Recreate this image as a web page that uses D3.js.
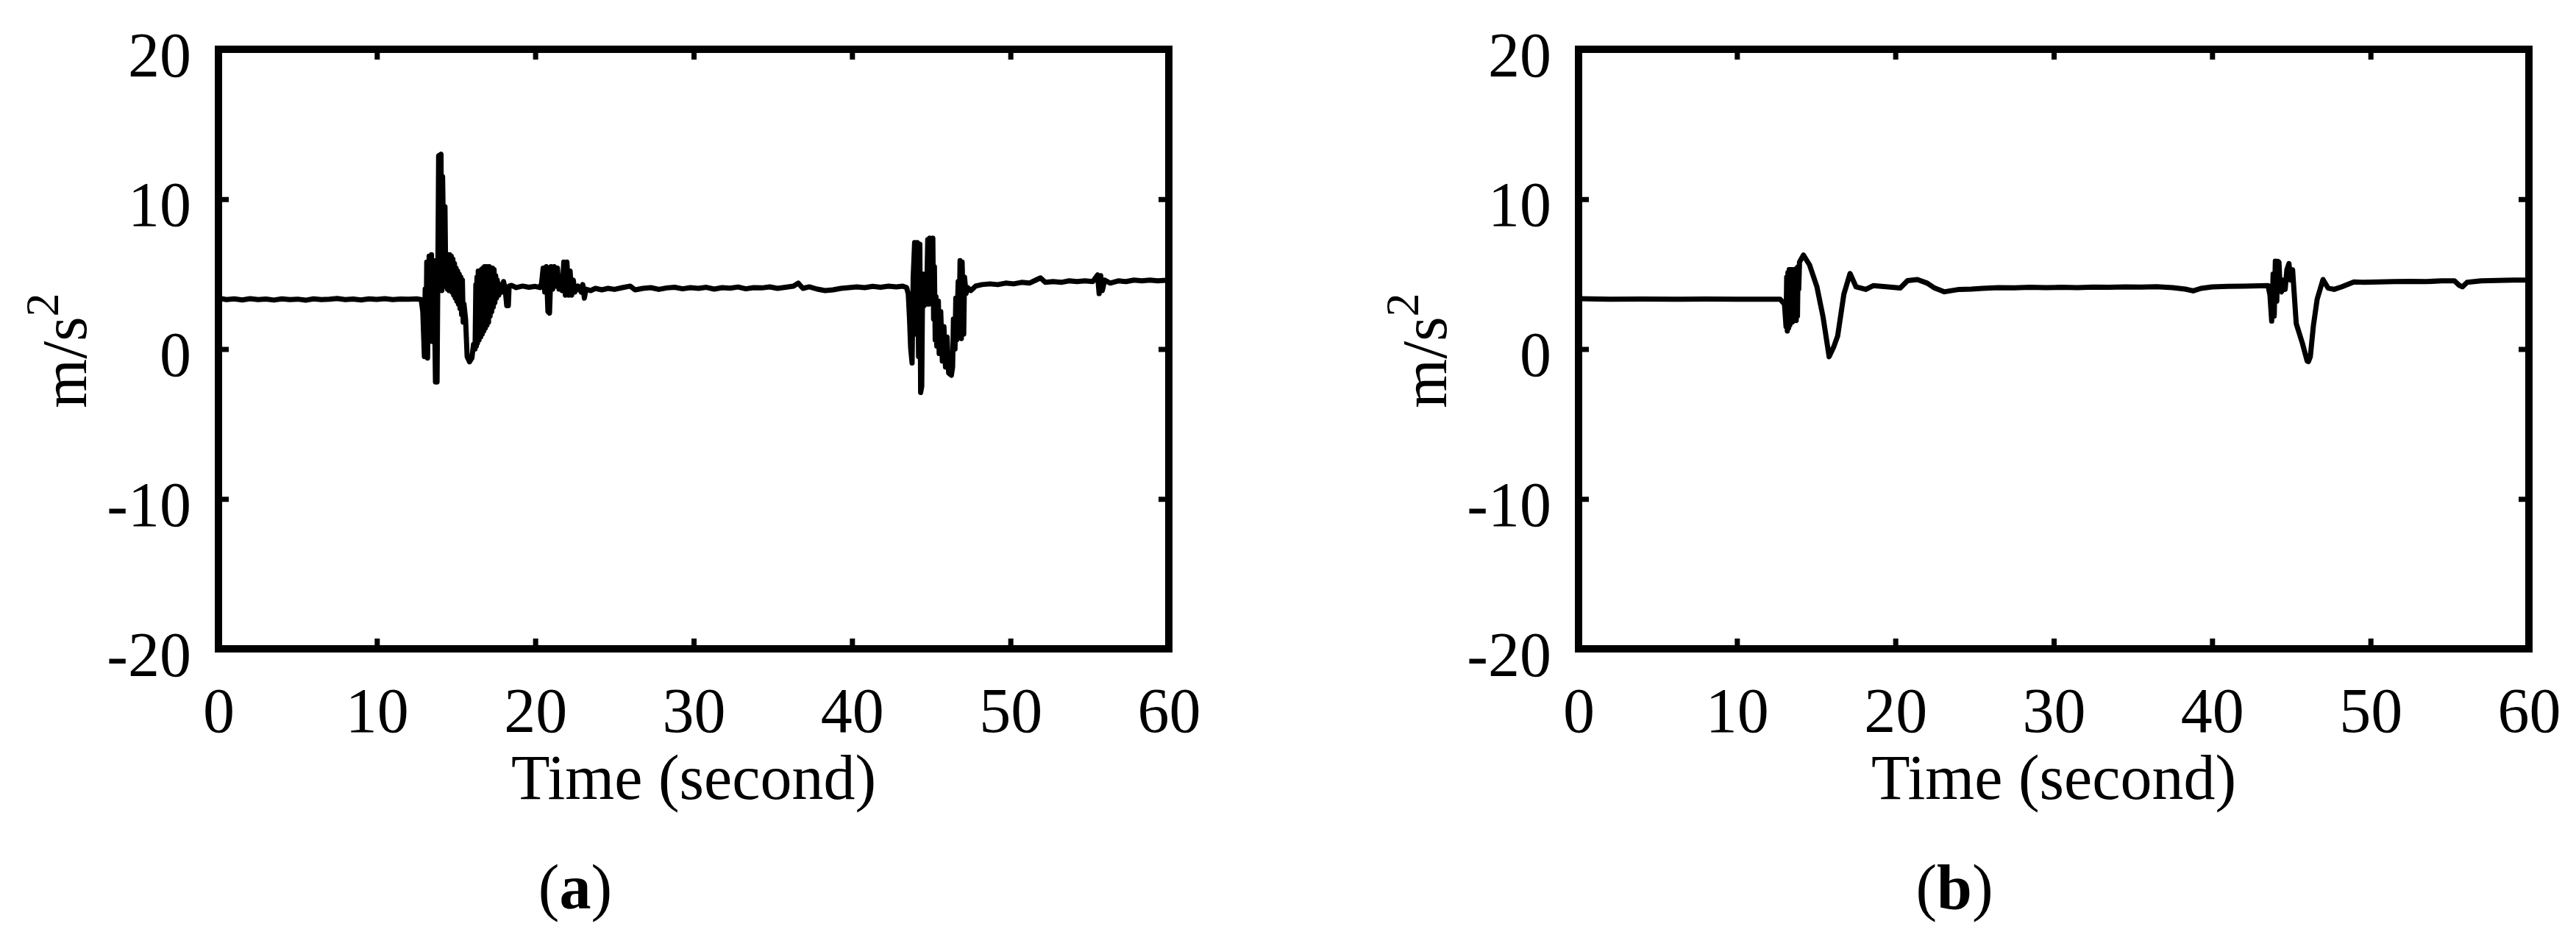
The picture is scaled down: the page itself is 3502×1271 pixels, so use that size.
<!DOCTYPE html>
<html>
<head>
<meta charset="utf-8">
<script src="https://cdn.jsdelivr.net/npm/d3@7"></script>
<style>
  html, body { margin: 0; padding: 0; background: #fff; }
  svg { display: block; }
  .trace { fill: none; stroke: #000; stroke-width: 7; stroke-linejoin: round; }
  .frame { fill: none; stroke: #000; stroke-width: 10; }
  text { font-family: "Liberation Serif", "Times New Roman", serif; fill: #000; }
</style>
</head>
<body>
<svg id="chart" width="3502" height="1271"></svg>
<script>
// axis values
var xTicks = [0, 10, 20, 30, 40, 50, 60];
var yTicks = [20, 10, 0, -10, -20];
var xTitle = 'Time (second)';
var panelNames = ['a', 'b'];

// (a) raw acceleration [time, m/s^2]
var seriesA = [
  [0,3.4],[0.5,3.3],[1,3.35],[1.5,3.28],[2,3.36],[2.5,3.3],[3,3.34],[3.5,3.27],[4,3.35],[4.5,3.3],
  [5,3.33],[5.5,3.26],[6,3.35],[6.5,3.3],[7,3.32],[7.5,3.37],[8,3.3],[8.5,3.34],[9,3.28],[9.5,3.35],
  [10,3.31],[10.5,3.36],[11,3.3],[11.5,3.34],[12,3.32],[12.5,3.35],[12.8,3.3],
  [12.9,2.5],[13.0,-0.5],[13.05,4.0],[13.1,0.2],[13.15,5.8],[13.2,-0.6],[13.3,6.2],[13.35,1.0],
  [13.45,6.3],[13.5,0.5],[13.6,5.9],[13.7,-2.2],[13.8,-2.2],[13.85,5.0],[13.9,12.9],[14.05,13.0],
  [14.1,3.9],[14.15,11.5],[14.25,4.2],[14.3,9.5],[14.35,4.5],
  [14.4,6.3],[14.45,4.0],[14.5,6.3],[14.55,3.9],[14.6,6.3],[14.65,4.0],[14.7,6.2],[14.75,3.8],
  [14.8,6.0],[14.85,3.6],[14.9,5.7],[14.95,3.4],[15.0,5.4],[15.05,3.2],[15.1,5.2],[15.15,3.0],
  [15.2,5.0],[15.25,2.7],[15.3,4.8],[15.35,2.3],[15.4,4.6],[15.45,1.8],[15.5,3.0],
  [15.6,2.0],[15.7,-0.5],[15.85,-0.85],[16.0,-0.6],[16.1,0.3],
  [16.2,0.0],[16.25,4.3],[16.28,0.2],[16.32,4.8],[16.35,0.4],[16.4,5.2],[16.45,0.6],[16.5,5.2],
  [16.55,0.8],[16.6,5.3],[16.65,1.0],[16.7,5.4],[16.75,1.2],[16.8,5.5],[16.85,1.4],[16.9,5.5],
  [16.95,1.6],[17.0,5.5],[17.05,1.8],[17.1,5.5],[17.15,2.2],[17.2,5.4],[17.25,2.5],[17.3,5.4],
  [17.35,2.8],[17.4,5.3],[17.45,3.1],[17.5,4.9],[17.55,3.4],[17.6,4.6],
  [17.7,3.6],[17.8,4.3],[17.9,3.8],[18.0,4.5],[18.1,4.0],[18.2,2.9],[18.3,2.9],[18.35,4.2],[18.5,4.25],
  [18.8,4.1],[19.2,4.2],[19.6,4.12],[20.0,4.18],[20.3,4.1],
  [20.4,4.4],[20.5,5.4],[20.6,3.8],[20.7,5.5],[20.8,2.5],[20.9,2.4],[21.0,5.5],[21.1,4.0],
  [21.2,5.5],[21.3,4.2],[21.4,5.4],[21.5,4.0],[21.6,4.7],[21.7,3.9],[21.8,5.8],[21.9,3.6],
  [22.0,5.8],[22.1,3.6],[22.2,5.2],[22.3,3.6],[22.4,4.6],[22.5,3.8],[22.7,4.2],[22.9,3.8],
  [23.0,4.3],[23.1,3.4],[23.2,4.0],[23.5,3.9],[23.8,4.05],[24.2,3.95],
  [24.6,4.05],[25,3.98],[25.5,4.1],[26,4.2],[26.3,3.95],[26.8,4.05],[27.3,4.1],[27.8,3.98],
  [28.3,4.08],[28.8,4.12],[29.3,4.02],[29.8,4.1],[30.3,4.05],[30.8,4.12],[31.3,4.0],[31.8,4.1],
  [32.3,4.06],[32.8,4.14],[33.3,4.02],[33.8,4.1],[34.3,4.08],[34.8,4.15],[35.3,4.05],[35.8,4.12],
  [36.3,4.2],[36.6,4.4],[36.9,4.05],[37.3,4.15],[37.8,4.0],[38.3,3.9],[38.8,3.95],[39.3,4.05],
  [39.8,4.1],[40.3,4.15],[40.8,4.1],[41.3,4.18],[41.8,4.12],[42.3,4.2],[42.8,4.15],[43.2,4.2],
  [43.45,4.1],[43.55,3.66],[43.63,2.0],[43.7,0.06],[43.79,-0.93],[43.86,4.8],[43.95,7.1],
  [44.05,1.0],[44.12,7.1],[44.2,-0.5],[44.28,7.0],[44.33,-2.9],[44.4,-2.5],[44.45,3.8],
  [44.5,5.0],[44.55,2.9],[44.62,4.9],[44.7,3.0],[44.78,7.3],[44.85,3.0],[44.9,7.4],[45.0,3.2],
  [45.1,7.4],[45.15,2.0],[45.2,5.5],[45.25,0.6],[45.3,3.5],[45.35,0.2],[45.45,3.2],[45.5,-0.3],
  [45.6,2.5],[45.7,-0.8],[45.8,1.5],[45.9,-1.2],[46.0,0.8],[46.1,-1.6],[46.27,-1.75],[46.35,-1.2],
  [46.4,2.0],[46.5,0.0],[46.55,3.4],[46.6,0.6],[46.7,4.5],[46.75,0.8],[46.82,5.9],[46.9,0.7],
  [46.95,5.8],[47.05,1.0],[47.1,4.8],[47.2,3.7],[47.3,4.1],[47.5,3.9],[47.8,4.2],
  [48.2,4.3],[48.7,4.35],[49.2,4.3],[49.7,4.4],[50.2,4.35],[50.7,4.45],[51.2,4.4],[51.6,4.6],
  [51.9,4.75],[52.2,4.45],[52.7,4.5],[53.2,4.45],[53.7,4.55],[54.2,4.5],[54.7,4.55],[55.2,4.5],
  [55.5,4.95],[55.6,3.7],[55.7,4.9],[55.8,3.9],[55.95,4.6],[56.3,4.4],[56.8,4.55],[57.3,4.5],
  [57.8,4.6],[58.3,4.55],[58.8,4.6],[59.3,4.55],[60,4.6]
];

// (b) filtered acceleration [time, m/s^2]
var seriesB = [
  [0,3.36],[2,3.33],[4,3.34],[6,3.32],[8,3.34],[10,3.33],[12.72,3.33],
  [13.0,3.0],[13.1,1.5],[13.14,4.8],[13.18,1.2],[13.22,5.1],[13.26,1.4],[13.3,5.3],[13.34,1.6],
  [13.38,5.3],[13.42,1.8],[13.46,5.3],[13.5,1.8],[13.54,5.2],[13.58,1.9],[13.62,5.3],[13.66,2.0],
  [13.7,5.3],[13.74,1.9],[13.78,5.4],[13.82,2.2],[13.86,5.5],[13.9,4.0],[13.95,5.8],[14.0,5.9],
  [14.2,6.27],[14.58,5.62],
  [15.05,4.15],[15.43,2.18],[15.82,-0.51],[16.13,0.2],[16.36,0.88],[16.75,3.66],[17.14,5.04],
  [17.52,4.15],[18.14,3.98],[18.6,4.23],[19.54,4.15],[20.31,4.07],[20.77,4.56],[21.39,4.64],
  [22.01,4.4],[22.48,4.07],[23.1,3.82],[24.03,3.98],[24.8,4.0],
  [25.5,4.05],[26.5,4.1],[27.5,4.08],[28.5,4.12],[29.5,4.1],[30.5,4.12],[31.5,4.1],[32.5,4.14],
  [33.5,4.12],[34.5,4.15],[35.5,4.13],[36.5,4.16],[37.5,4.1],[38.3,4.0],[38.8,3.88],[39.3,4.05],
  [40,4.15],[41,4.18],[42,4.2],[43,4.22],[43.53,4.23],
  [43.65,3.6],[43.76,1.86],[43.85,5.0],[43.92,2.2],[43.99,5.87],[44.08,3.2],[44.15,5.85],
  [44.22,5.79],[44.3,3.9],[44.38,3.82],[44.5,4.6],[44.61,3.98],[44.72,5.3],[44.85,5.7],
  [44.95,4.6],[45.08,5.29],[45.31,1.7],[45.7,0.38],[46.0,-0.8],[46.08,-0.84],[46.2,-0.5],
  [46.39,1.53],[46.63,3.33],[47.0,4.64],[47.32,4.07],[47.7,3.98],[48.17,4.15],[48.95,4.48],
  [49.5,4.46],[50.5,4.48],[51.5,4.5],[52.5,4.52],[53.5,4.5],[54.5,4.55],[55.3,4.55],[55.6,4.25],
  [55.8,4.15],[56.1,4.45],[57,4.55],[58,4.58],[59,4.6],[60,4.6]
];

var charts = {};

charts.init = function(){
    this.svg = d3.select('#chart');
    this.fontSize = 86;
    // plot frames, left edge of each panel
    this.left = [297, 2146];
    this.top = 67;
    this.width = 1292;
    this.height = 815;
}

charts.drawPanel = function(i, data){
    const svg = this.svg
    const fs = this.fontSize
    const w = this.width
    const h = this.height
    // plain hyphen for negatives, like the source figure
    const fmt = function(d){ return String(d) }

    var g = svg.append('g')
        .attr('transform', 'translate(' + this.left[i] + ',' + this.top + ')')

    var x = d3.scaleLinear().domain([0, 60]).range([0, w]);
    var y = d3.scaleLinear().domain([-20, 20]).range([h, 0]);

    var line = d3.line()
        .x(function(d){ return x(d[0]) })
        .y(function(d){ return y(d[1]) });

    g.append('path')
        .datum(data)
        .attr('class', 'trace')
        .attr('d', line)

    // inward ticks on all four sides
    var bottom = g.append('g')
        .attr('transform', 'translate(0,' + h + ')')
        .call(d3.axisBottom(x).tickValues(xTicks).tickSize(-14).tickFormat(fmt))
    var top = g.append('g')
        .call(d3.axisTop(x).tickValues(xTicks).tickSize(-14).tickFormat(''))
    var left = g.append('g')
        .call(d3.axisLeft(y).tickValues(yTicks).tickSize(-14).tickFormat(fmt))
    var right = g.append('g')
        .attr('transform', 'translate(' + w + ',0)')
        .call(d3.axisRight(y).tickValues(yTicks).tickSize(-14).tickFormat(''))

    ;[bottom, top, left, right].forEach(function(a){
        a.select('.domain').remove()
        a.selectAll('line').attr('stroke', '#000').attr('stroke-width', 7)
        a.selectAll('text')
            .attr('font-family', '"Liberation Serif", serif')
            .attr('font-size', fs)
            .attr('fill', '#000')
    })

    bottom.selectAll('text').attr('y', 113).attr('dy', null)
    left.selectAll('text').attr('x', -37).attr('dy', 36)

    g.append('rect')
        .attr('class', 'frame')
        .attr('x', 0)
        .attr('y', 0)
        .attr('width', w)
        .attr('height', h)

    g.append('text')
        .text(xTitle)
        .attr('x', w/2)
        .attr('y', 1086 - this.top)
        .attr('text-anchor', 'middle')
        .attr('font-size', fs)

    var ylab = g.append('text')
        .attr('transform', 'translate(' + (117 - 297) + ',' + (h/2 + 2) + ') rotate(-90)')
        .attr('text-anchor', 'middle')
        .attr('font-size', fs)
    ylab.append('tspan').text('m/s')
    ylab.append('tspan').text('2').attr('font-size', 64).attr('dy', -38)

    var cap = g.append('text')
        .attr('x', 485 + (i == 0 ? 0 : 26))
        .attr('y', 1235 - this.top)
        .attr('text-anchor', 'middle')
        .attr('font-size', fs)
    cap.append('tspan').text('(')
    cap.append('tspan').text(panelNames[i]).attr('font-weight', 'bold')
    cap.append('tspan').text(')')
}

charts.init()
charts.drawPanel(0, seriesA)
charts.drawPanel(1, seriesB)
</script>
</body>
</html>
